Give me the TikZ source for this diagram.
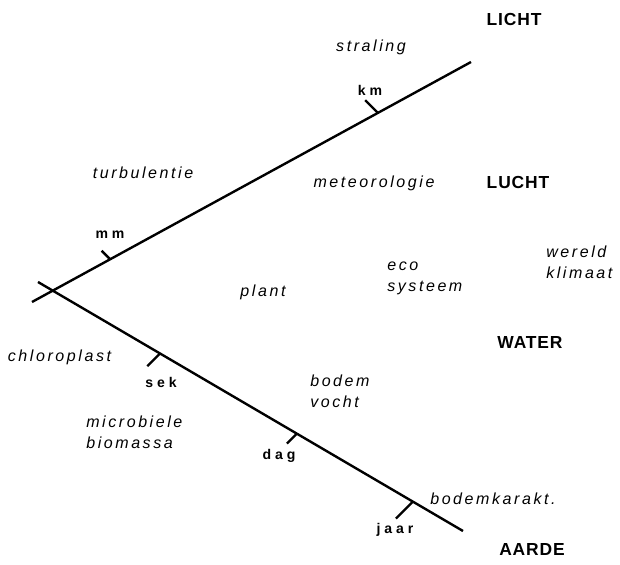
\documentclass[tikz,border=0pt]{standalone}
\usepackage{fontspec}
\setmainfont{Liberation Sans}
\newfontfamily\spacedfont[LetterSpace=16]{Liberation Sans}
\newfontfamily\capsfont[LetterSpace=5]{Liberation Sans}
\newfontfamily\unitfont[LetterSpace=28]{Liberation Sans}
\usepackage{tikz}
\usetikzlibrary{positioning,calc}

\begin{document}
\begin{tikzpicture}[
    lbl/.style={font=\spacedfont\itshape\fontsize{11.4}{15}\selectfont, inner sep=0pt, align=left},
    dom/.style={font=\capsfont\bfseries\fontsize{12.4}{14}\selectfont, inner sep=0pt},
    unit/.style={font=\unitfont\bfseries\fontsize{10}{12}\selectfont, inner sep=0pt},
    axis/.style={line width=1.7pt},
    tck/.style={line width=1.7pt}]
    \useasboundingbox (0,0) rectangle (15.5,-14.125);

    % the two axes
    \coordinate (u0) at (0.8,-7.55);
    \coordinate (u1) at (11.775,-1.55);
    \coordinate (l0) at (0.95,-7.05);
    \coordinate (l1) at (11.575,-13.275);
    \draw[axis] (u0) -- (u1) coordinate[pos=0.178] (tmm) coordinate[pos=0.788] (tkm);
    \draw[axis] (l0) -- (l1) coordinate[pos=0.287] (tsek) coordinate[pos=0.609] (tdag)
        coordinate[pos=0.882] (tjaar);

    % scale ticks
    \draw[tck] (tmm) -- ++(135:0.3);
    \draw[tck] (tkm) -- ++(135:0.45);
    \draw[tck] (tsek) -- ++(225:0.45);
    \draw[tck] (tdag) -- ++(225:0.35);
    \draw[tck] (tjaar) -- ++(225:0.6);

    \node[unit] (mm) at (2.75,-5.875) {mm};
    \node[unit] (km) at (9.25,-2.25) {km};
    \node[unit] (sek) at (4.025,-9.55) {sek};
    \node[unit] (dag) at (6.975,-11.4) {dag};
    \node[unit] (jaar) at (9.875,-13.25) {jaar};

    % compartments
    \node[dom] (licht) at (12.85,-0.5) {LICHT};
    \node[dom] (lucht) at (12.95,-4.575) {LUCHT};
    \node[dom] (water) at (13.25,-8.575) {WATER};
    \node[dom] (aarde) at (13.3,-13.75) {AARDE};

    % processes and systems
    \node[lbl] (straling) at (9.275,-1.175) {straling};
    \node[lbl] (turb) at (3.575,-4.325) {turbulentie};
    \node[lbl] (meteo) at (9.35,-4.575) {meteorologie};
    \node[lbl, anchor=west] (eco) at (9.675,-6.95) {eco\\systeem};
    \node[lbl, anchor=west] (klimaat) at (13.65,-6.55) {wereld\\klimaat};
    \node[lbl] (plant) at (6.575,-7.3) {plant};
    \node[lbl] (chloro) at (1.4875,-8.925) {chloroplast};
    \node[lbl, anchor=west] (vocht) at (7.75,-9.775) {bodem\\vocht};
    \node[lbl, anchor=west] (micro) at (2.15,-10.8) {microbiele\\biomassa};
    \node[lbl, anchor=west] (karakt) at (10.75,-12.475) {bodemkarakt.};
\end{tikzpicture}
\end{document}
